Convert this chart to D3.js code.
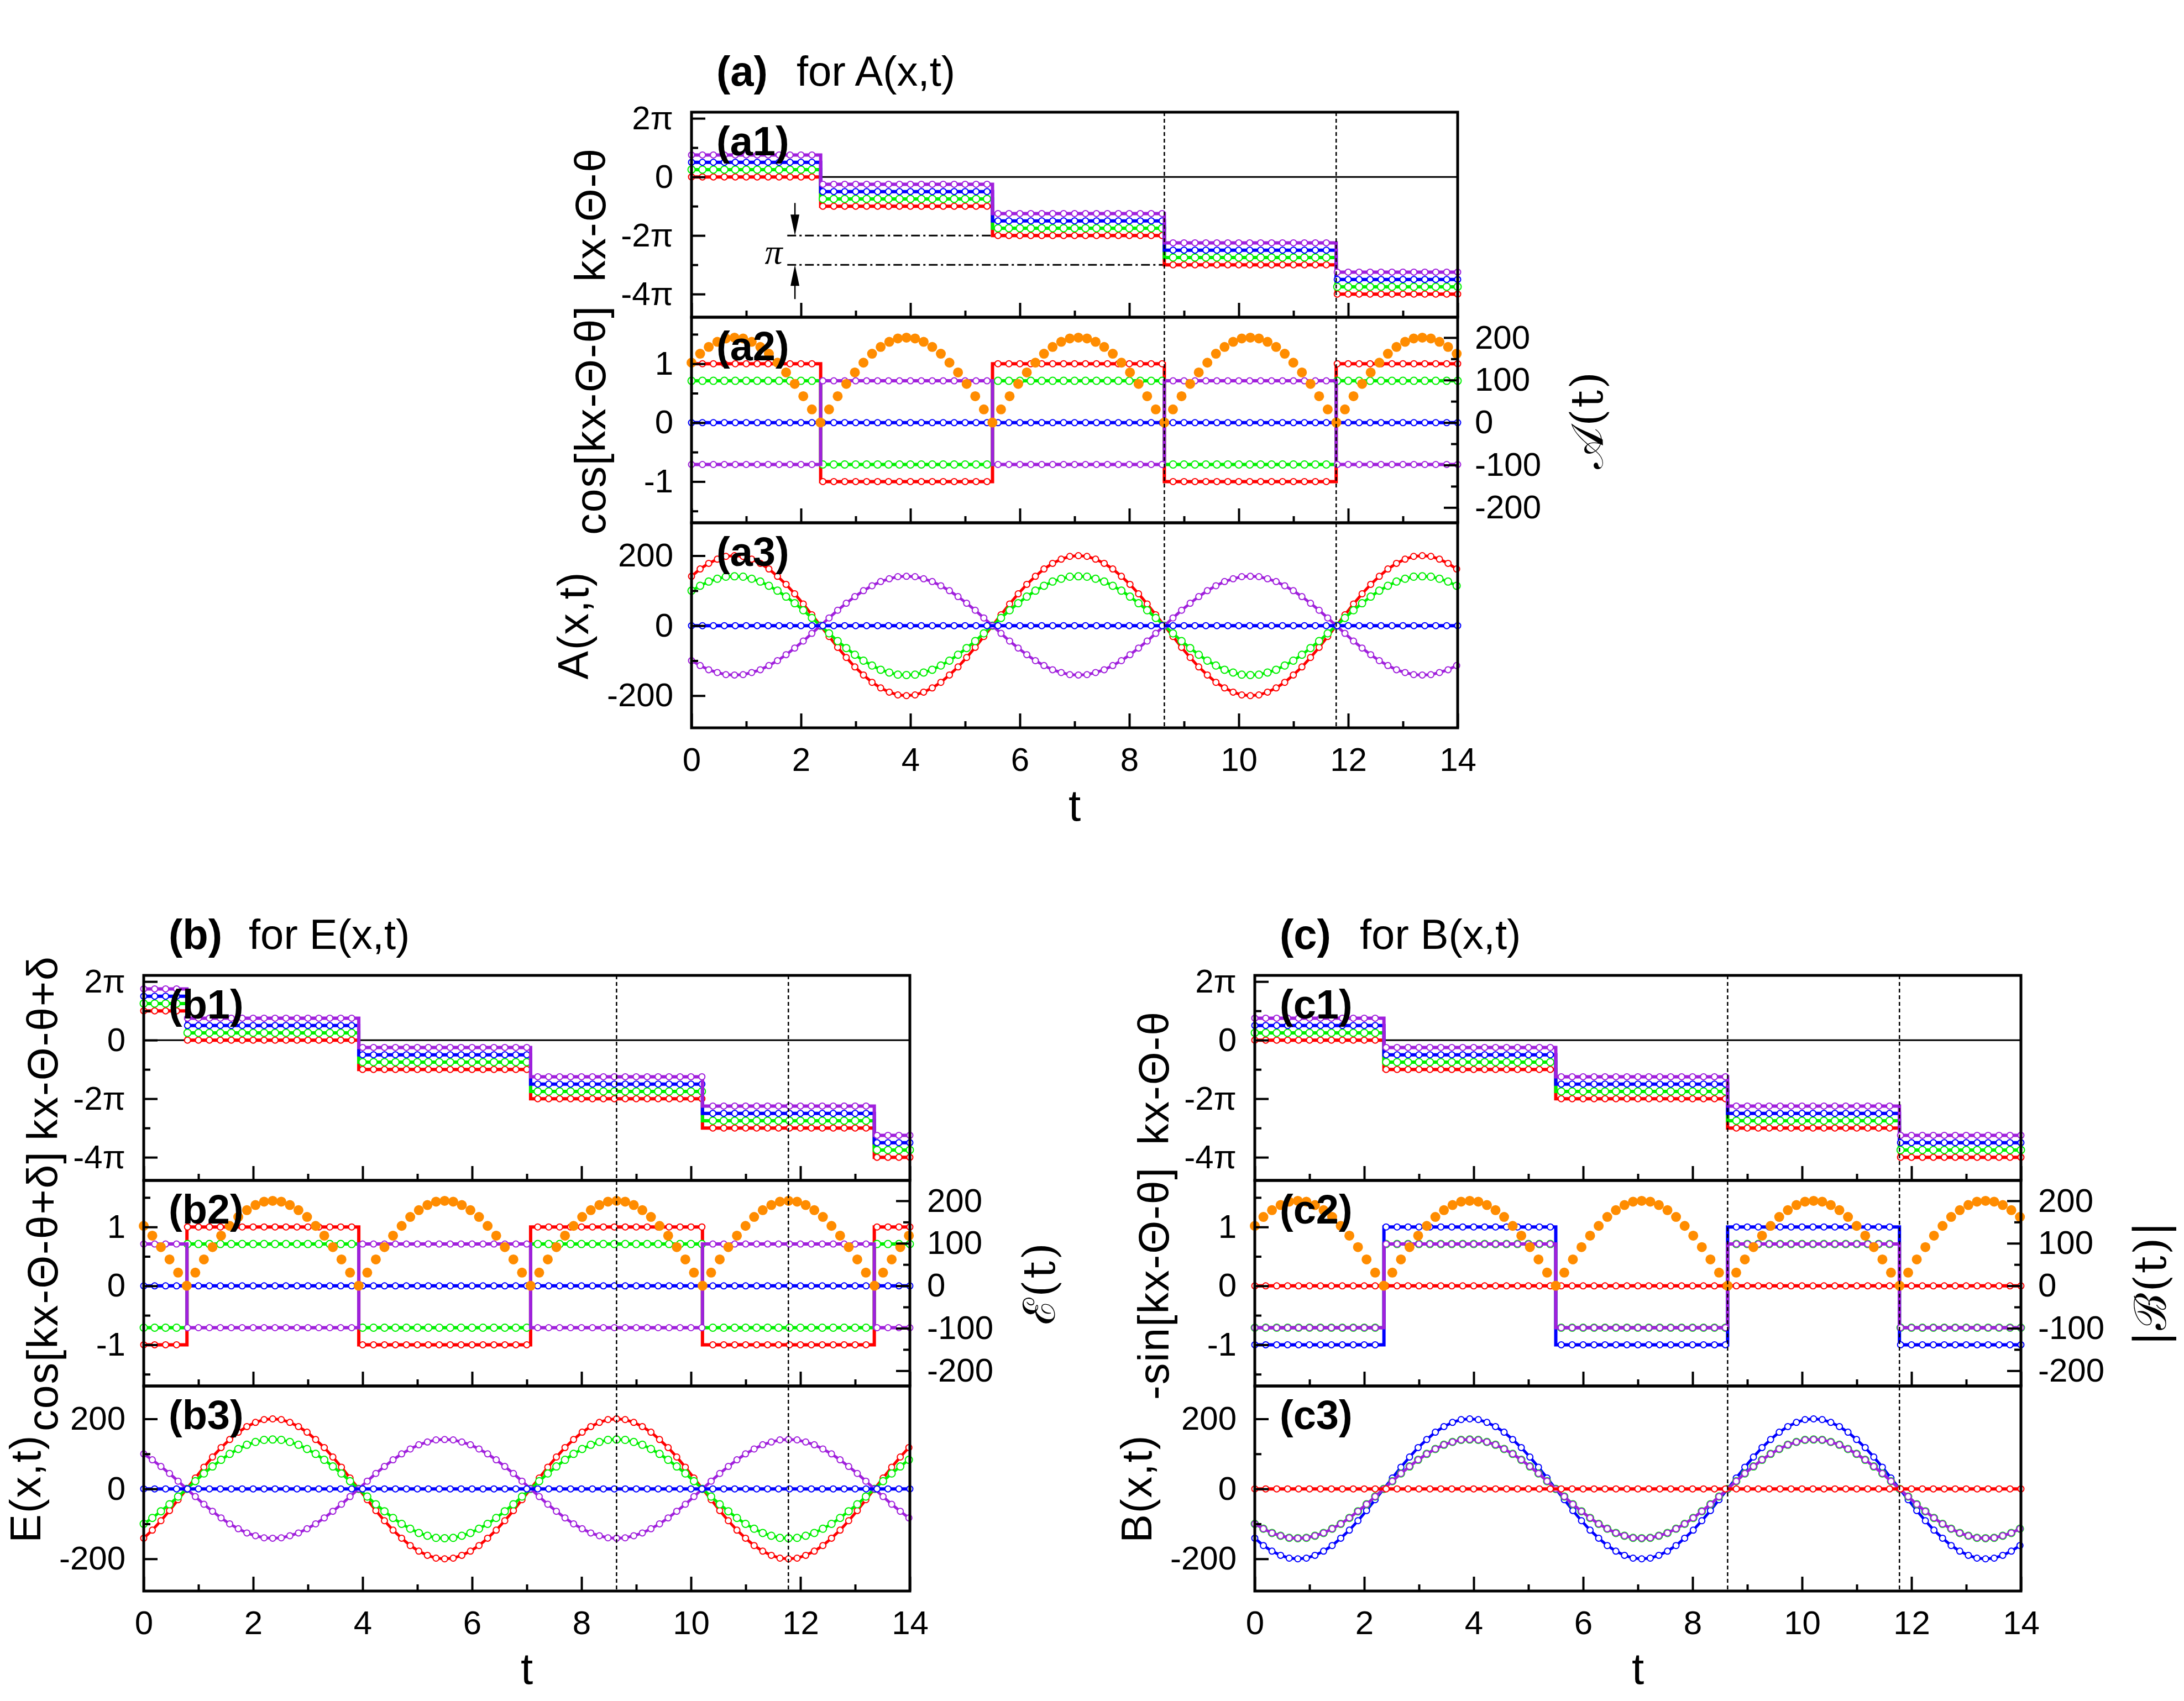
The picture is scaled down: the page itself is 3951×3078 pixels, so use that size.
<!DOCTYPE html>
<html>
<head>
<meta charset="utf-8">
<script src="https://cdn.jsdelivr.net/npm/d3@7"></script>
<style>
  body { margin: 0; background: #fff; }
  svg { display: block; }
</style>
</head>
<body>
<svg id="fig" width="3951" height="3078"></svg>
<script>
// ---------------- data ----------------
const tEnd = 14;
const tStep = 0.1571;   // spacing of the sampled points (orange dots, curves)
const markStep = 0.2;   // spacing of the open circles along the step lines
const jumpA = [2.36, 5.50, 8.64, 11.78];           // phase jumps for A and B
const jumpB = [0.79, 3.93, 7.07, 10.21, 13.35];    // phase jumps for E
const guideT = [8.64, 11.78];                      // dotted vertical guides
const xTicks = [0, 2, 4, 6, 8, 10, 12, 14];
const xMinor = [1, 3, 5, 7, 9, 11, 13];

// phase kx-Θ-θ (units of π), one value per segment
const phaseRedA = [0, -1, -2, -3, -4];
const phaseGreenA = [0.25, -0.75, -1.75, -2.75, -3.75];
const phaseBlueA = [0.5, -0.5, -1.5, -2.5, -3.5];
const phasePurpleA = [0.75, -0.25, -1.25, -2.25, -3.25];
const phaseRedB = [1, 0, -1, -2, -3, -4];
const phaseGreenB = [1.25, 0.25, -0.75, -1.75, -2.75, -3.75];
const phaseBlueB = [1.5, 0.5, -0.5, -1.5, -2.5, -3.5];
const phasePurpleB = [1.75, 0.75, -0.25, -1.25, -2.25, -3.25];

// projections per segment
const cosRedA = [1, -1, 1, -1, 1];
const cosGreenA = [0.71, -0.71, 0.71, -0.71, 0.71];
const cosBlueA = [0, 0, 0, 0, 0];
const cosPurpleA = [-0.71, 0.71, -0.71, 0.71, -0.71];
const cosRedB = [-1, 1, -1, 1, -1, 1];
const cosGreenB = [-0.71, 0.71, -0.71, 0.71, -0.71, 0.71];
const cosBlueB = [0, 0, 0, 0, 0, 0];
const cosPurpleB = [0.71, -0.71, 0.71, -0.71, 0.71, -0.71];
const sinRedC = [0, 0, 0, 0, 0];
const sinGreenC = [-0.71, 0.71, -0.71, 0.71, -0.71];
const sinBlueC = [-1, 1, -1, 1, -1];
const sinPurpleC = [-0.71, 0.71, -0.71, 0.71, -0.71];
const zeroLevel = [0];

// amplitudes |A(t)| (also |B(t)|) and |E(t)|, right axis
const ampA = [141,162,178,190,198,
  200,198,190,178,162,141,118,91,62,31,0,31,62,91,118,141,162,178,190,198,
  200,198,190,178,162,141,118,91,62,31,0,31,62,91,118,141,162,178,190,198,
  200,198,190,178,162,141,118,91,62,31,0,31,62,91,118,141,162,178,190,198,
  200,198,190,178,162,141,118,91,62,31,0,31,62,91,118,141,162,178,190,198,
  200,198,190,178,162];
const ampE = [141,118,91,62,31,0,31,62,91,118,141,162,178,190,198,
  200,198,190,178,162,141,118,91,62,31,0,31,62,91,118,141,162,178,190,198,
  200,198,190,178,162,141,118,91,62,31,0,31,62,91,118,141,162,178,190,198,
  200,198,190,178,162,141,118,91,62,31,0,31,62,91,118,141,162,178,190,198,
  200,198,190,178,162,141,118,91,62,31,0,31,62,91,118];

// fields A(x,t)
const aRed = [141,162,178,190,198,
  200,198,190,178,162,141,118,91,62,31,0,-31,-62,-91,-118,-141,-162,-178,-190,-198,
  -200,-198,-190,-178,-162,-141,-118,-91,-62,-31,0,31,62,91,118,141,162,178,190,198,
  200,198,190,178,162,141,118,91,62,31,0,-31,-62,-91,-118,-141,-162,-178,-190,-198,
  -200,-198,-190,-178,-162,-141,-118,-91,-62,-31,0,31,62,91,118,141,162,178,190,198,
  200,198,190,178,162];
const aGreen = [100,114,126,134,140,
  141,140,134,126,114,100,83,64,44,22,0,-22,-44,-64,-83,-100,-114,-126,-134,-140,
  -141,-140,-134,-126,-114,-100,-83,-64,-44,-22,0,22,44,64,83,100,114,126,134,140,
  141,140,134,126,114,100,83,64,44,22,0,-22,-44,-64,-83,-100,-114,-126,-134,-140,
  -141,-140,-134,-126,-114,-100,-83,-64,-44,-22,0,22,44,64,83,100,114,126,134,140,
  141,140,134,126,114];
const aPurple = [-100,-114,-126,-134,-140,
  -141,-140,-134,-126,-114,-100,-83,-64,-44,-22,0,22,44,64,83,100,114,126,134,140,
  141,140,134,126,114,100,83,64,44,22,0,-22,-44,-64,-83,-100,-114,-126,-134,-140,
  -141,-140,-134,-126,-114,-100,-83,-64,-44,-22,0,22,44,64,83,100,114,126,134,140,
  141,140,134,126,114,100,83,64,44,22,0,-22,-44,-64,-83,-100,-114,-126,-134,-140,
  -141,-140,-134,-126,-114];

// fields E(x,t)
const eRed = [-141,-118,-91,-62,-31,0,31,62,91,118,141,162,178,190,198,
  200,198,190,178,162,141,118,91,62,31,0,-31,-62,-91,-118,-141,-162,-178,-190,-198,
  -200,-198,-190,-178,-162,-141,-118,-91,-62,-31,0,31,62,91,118,141,162,178,190,198,
  200,198,190,178,162,141,118,91,62,31,0,-31,-62,-91,-118,-141,-162,-178,-190,-198,
  -200,-198,-190,-178,-162,-141,-118,-91,-62,-31,0,31,62,91,118];
const eGreen = [-100,-83,-64,-44,-22,0,22,44,64,83,100,114,126,134,140,
  141,140,134,126,114,100,83,64,44,22,0,-22,-44,-64,-83,-100,-114,-126,-134,-140,
  -141,-140,-134,-126,-114,-100,-83,-64,-44,-22,0,22,44,64,83,100,114,126,134,140,
  141,140,134,126,114,100,83,64,44,22,0,-22,-44,-64,-83,-100,-114,-126,-134,-140,
  -141,-140,-134,-126,-114,-100,-83,-64,-44,-22,0,22,44,64,83];
const ePurple = [100,83,64,44,22,0,-22,-44,-64,-83,-100,-114,-126,-134,-140,
  -141,-140,-134,-126,-114,-100,-83,-64,-44,-22,0,22,44,64,83,100,114,126,134,140,
  141,140,134,126,114,100,83,64,44,22,0,-22,-44,-64,-83,-100,-114,-126,-134,-140,
  -141,-140,-134,-126,-114,-100,-83,-64,-44,-22,0,22,44,64,83,100,114,126,134,140,
  141,140,134,126,114,100,83,64,44,22,0,-22,-44,-64,-83];

// fields B(x,t): green and purple coincide
const bBlue = [-141,-162,-178,-190,-198,
  -200,-198,-190,-178,-162,-141,-118,-91,-62,-31,0,31,62,91,118,141,162,178,190,198,
  200,198,190,178,162,141,118,91,62,31,0,-31,-62,-91,-118,-141,-162,-178,-190,-198,
  -200,-198,-190,-178,-162,-141,-118,-91,-62,-31,0,31,62,91,118,141,162,178,190,198,
  200,198,190,178,162,141,118,91,62,31,0,-31,-62,-91,-118,-141,-162,-178,-190,-198,
  -200,-198,-190,-178,-162];
const bGreen = aPurple;
const bPurple = aPurple;

// annotation in (a1): the π gap between steps
const gapLevels = [-2, -3];
const gapFrom = 1.75;
const gapTo = [5.50, 8.64];
const arrowT = 1.89;
const arrowFrom = [-0.89, -4.17];
const arrowTo = [-2, -3];
const gapLabelAt = [1.50, -2.55];

// ---------------- layout ----------------
const colors = { red: '#ff0000', green: '#00f000', blue: '#0000ff', purple: '#a020dc', orange: '#ff8c00' };
const FONT = "'Liberation Sans', Arial, sans-serif";
const W = 1386, H1 = 371, H2 = 372, H3 = 371;

const x = d3.scaleLinear().domain([0, tEnd]).range([0, W]);
const yPhase = d3.scaleLinear().domain([-4.79, 2.21]).range([H1, 0]);
const yProj = d3.scaleLinear().domain([-1.70, 1.79]).range([H2, 0]);
const yAmp = d3.scaleLinear().domain([-236, 248]).range([H2, 0]);
const yField = d3.scaleLinear().domain([-292, 294]).range([H3, 0]);

const markT = d3.range(0, tEnd + 1e-9, markStep);

const panels = [
  {
    tag: 'a', title: 'for A(x,t)', left: 1251, top: 203, jumps: jumpA,
    phase: [['red', phaseRedA], ['green', phaseGreenA], ['blue', phaseBlueA], ['purple', phasePurpleA]],
    proj: [['red', cosRedA], ['green', cosGreenA], ['blue', cosBlueA], ['purple', cosPurpleA]],
    amp: ampA,
    field: [['red', aRed], ['green', aGreen], ['purple', aPurple], ['blue', null]],
    labels: ['kx-Θ-θ', 'cos[kx-Θ-θ]', 'A(x,t)'], shift: [0, 0, 0],
    right: '𝒜(t)', note: true
  },
  {
    tag: 'b', title: 'for E(x,t)', left: 260, top: 1765, jumps: jumpB,
    phase: [['red', phaseRedB], ['green', phaseGreenB], ['blue', phaseBlueB], ['purple', phasePurpleB]],
    proj: [['red', cosRedB], ['green', cosGreenB], ['blue', cosBlueB], ['purple', cosPurpleB]],
    amp: ampE,
    field: [['red', eRed], ['green', eGreen], ['purple', ePurple], ['blue', null]],
    labels: ['kx-Θ-θ+δ', 'cos[kx-Θ-θ+δ]', 'E(x,t)'], shift: [-54, 14, 0],
    right: 'ℰ(t)', note: false
  },
  {
    tag: 'c', title: 'for B(x,t)', left: 2270, top: 1765, jumps: jumpA,
    phase: [['red', phaseRedA], ['green', phaseGreenA], ['blue', phaseBlueA], ['purple', phasePurpleA]],
    proj: [['red', sinRedC], ['green', sinGreenC], ['blue', sinBlueC], ['purple', sinPurpleC]],
    amp: ampA,
    field: [['blue', bBlue], ['green', bGreen], ['purple', bPurple], ['red', null]],
    labels: ['kx-Θ-θ', '-sin[kx-Θ-θ]', 'B(x,t)'], shift: [0, 0, 0],
    right: '|ℬ(t)|', note: false
  }
];

const svg = d3.select('#fig');
svg.append('rect').attr('width', 3951).attr('height', 3078).attr('fill', '#fff');

function markerR(color) { return color === 'green' ? 6.5 : 5.5; }

function drawStep(g, y, jumps, levels, color) {
  const pts = [[0, levels[0]]];
  jumps.forEach((j, i) => pts.push([j, levels[i]], [j, levels[i + 1]]));
  pts.push([tEnd, levels[levels.length - 1]]);
  g.append('path')
    .attr('d', d3.line().x(d => x(d[0])).y(d => y(d[1]))(pts))
    .attr('fill', 'none').attr('stroke', colors[color]).attr('stroke-width', 6);
  g.append('g').selectAll('circle').data(markT).join('circle')
    .attr('cx', t => x(t))
    .attr('cy', t => y(levels[d3.bisectRight(jumps, t)]))
    .attr('r', markerR(color))
    .attr('fill', '#fff').attr('stroke', colors[color]).attr('stroke-width', 2);
}

function drawSampled(g, y, values, color) {
  g.append('path')
    .attr('d', d3.line().x((d, i) => x(i * tStep)).y(d => y(d))(values))
    .attr('fill', 'none').attr('stroke', colors[color]).attr('stroke-width', 5);
  g.append('g').selectAll('circle').data(values).join('circle')
    .attr('cx', (d, i) => x(i * tStep)).attr('cy', d => y(d))
    .attr('r', markerR(color))
    .attr('fill', '#fff').attr('stroke', colors[color]).attr('stroke-width', 2);
}

function styleAxis(ax) {
  ax.select('.domain').remove();
  ax.selectAll('line').attr('stroke', '#000').attr('stroke-width', 4);
  ax.attr('font-size', 60).attr('font-family', FONT);
  ax.selectAll('text').attr('fill', '#000');
}

function num(v) { return String(v); }

function frameAndAxes(g, y, h, leftVals, leftMinor, leftFmt, showX) {
  styleAxis(g.append('g').attr('transform', `translate(0,${h})`)
    .call(d3.axisBottom(x).tickValues(xTicks).tickSizeInner(-26).tickSizeOuter(0)
      .tickPadding(35).tickFormat(showX ? num : () => '')));
  styleAxis(g.append('g').attr('transform', `translate(0,${h})`)
    .call(d3.axisBottom(x).tickValues(xMinor).tickSizeInner(-12).tickSizeOuter(0).tickFormat(() => '')));
  styleAxis(g.append('g')
    .call(d3.axisLeft(y).tickValues(leftVals).tickSizeInner(-25).tickSizeOuter(0)
      .tickPadding(33).tickFormat(leftFmt)));
  styleAxis(g.append('g')
    .call(d3.axisLeft(y).tickValues(leftMinor).tickSizeInner(-12).tickSizeOuter(0).tickFormat(() => '')));
}

function rotLabel(parent, px, py, text, size, family) {
  parent.append('text')
    .attr('transform', `translate(${px},${py}) rotate(-90)`)
    .attr('text-anchor', 'middle')
    .attr('font-family', family || FONT).attr('font-size', size || 77)
    .attr('letter-spacing', 2)
    .text(text);
}

panels.forEach(p => {
  const g = svg.append('g').attr('transform', `translate(${p.left},${p.top})`);

  // title
  const title = g.append('text').attr('y', -48).attr('font-family', FONT).attr('font-size', 76);
  title.append('tspan').attr('x', 45).attr('font-weight', 'bold').text(`(${p.tag})`);
  title.append('tspan').attr('x', 190).text(p.title);

  // ---- sub 1: phase ----
  const g1 = g.append('g');
  g1.append('line').attr('x1', 0).attr('x2', W).attr('y1', yPhase(0)).attr('y2', yPhase(0))
    .attr('stroke', '#000').attr('stroke-width', 3);
  if (p.note) {
    gapLevels.forEach((lv, i) => {
      g1.append('line').attr('x1', x(gapFrom)).attr('x2', x(gapTo[i]))
        .attr('y1', yPhase(lv)).attr('y2', yPhase(lv))
        .attr('stroke', '#000').attr('stroke-width', 3).attr('stroke-dasharray', '16,6,4,6');
    });
    arrowFrom.forEach((f, i) => {
      const ax = x(arrowT), y0 = yPhase(f), y1 = yPhase(arrowTo[i]);
      const dir = y1 > y0 ? 1 : -1;
      g1.append('line').attr('x1', ax).attr('x2', ax).attr('y1', y0).attr('y2', y1 - dir * 30)
        .attr('stroke', '#000').attr('stroke-width', 2.5);
      g1.append('path')
        .attr('d', `M${ax},${y1} L${ax - 8},${y1 - dir * 38} L${ax + 8},${y1 - dir * 38} Z`)
        .attr('fill', '#000');
    });
    g1.append('text').attr('x', x(gapLabelAt[0])).attr('y', yPhase(gapLabelAt[1]))
      .attr('text-anchor', 'middle').attr('dominant-baseline', 'central')
      .attr('font-family', "'Liberation Serif', serif").attr('font-style', 'italic')
      .attr('font-size', 64).text('π');
  }
  p.phase.forEach(([c, lv]) => drawStep(g1, yPhase, p.jumps, lv, c));
  frameAndAxes(g1, yPhase, H1, [2, 0, -2, -4], [1, -1, -3], v => v === 0 ? '0' : v + 'π', false);

  // ---- sub 2: projection + amplitude ----
  const g2 = g.append('g').attr('transform', `translate(0,${H1})`);
  p.proj.forEach(([c, lv]) => drawStep(g2, yProj, p.jumps, lv, c));
  g2.append('g').selectAll('circle').data(p.amp).join('circle')
    .attr('cx', (d, i) => x(i * tStep)).attr('cy', d => yAmp(d))
    .attr('r', 9).attr('fill', colors.orange);
  frameAndAxes(g2, yProj, H2, [1, 0, -1], [1.5, 0.5, -0.5, -1.5], num, false);
  styleAxis(g2.append('g').attr('transform', `translate(${W},0)`)
    .call(d3.axisRight(yAmp).tickValues([200, 100, 0, -100, -200]).tickSizeInner(-25)
      .tickSizeOuter(0).tickPadding(31).tickFormat(num)));
  styleAxis(g2.append('g').attr('transform', `translate(${W},0)`)
    .call(d3.axisRight(yAmp).tickValues([150, 50, -50, -150]).tickSizeInner(-12)
      .tickSizeOuter(0).tickFormat(() => '')));

  // ---- sub 3: field ----
  const g3 = g.append('g').attr('transform', `translate(0,${H1 + H2})`);
  p.field.forEach(([c, vals]) => {
    if (vals) drawSampled(g3, yField, vals, c);
    else drawStep(g3, yField, [], zeroLevel, c);
  });
  frameAndAxes(g3, yField, H3, [200, 0, -200], [100, -100], num, true);

  // frames
  [[0, H1], [H1, H2], [H1 + H2, H3]].forEach(([oy, h]) => {
    g.append('rect').attr('x', 0).attr('y', oy).attr('width', W).attr('height', h)
      .attr('fill', 'none').attr('stroke', '#000').attr('stroke-width', 5);
  });

  // dotted guides
  guideT.forEach(t => {
    g.append('line').attr('x1', x(t)).attr('x2', x(t)).attr('y1', 0).attr('y2', H1 + H2 + H3)
      .attr('stroke', '#000').attr('stroke-width', 2.5).attr('stroke-dasharray', '7,5');
  });

  // sub-panel tags
  [0, H1, H1 + H2].forEach((oy, i) => {
    g.append('text').attr('x', 45).attr('y', oy + 78)
      .attr('font-family', FONT).attr('font-size', 74).attr('font-weight', 'bold')
      .text(`(${p.tag}${i + 1})`);
  });

  // axis titles
  rotLabel(g, -156, H1 / 2 + p.shift[0], p.labels[0]);
  rotLabel(g, -156, H1 + H2 / 2 + p.shift[1], p.labels[1]);
  rotLabel(g, -187, H1 + H2 + H3 / 2 + p.shift[2], p.labels[2]);
  rotLabel(g, W + 262, H1 + H2 / 2, p.right, 80, "'DejaVu Serif', 'Liberation Serif', serif");
  g.append('text').attr('x', W / 2).attr('y', H1 + H2 + H3 + 168)
    .attr('text-anchor', 'middle').attr('font-family', FONT).attr('font-size', 80).text('t');
});
</script>
</body>
</html>
